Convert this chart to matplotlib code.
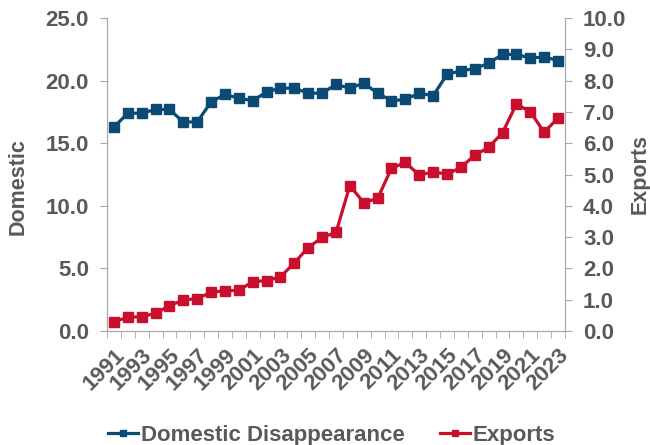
import numpy as np
import matplotlib.pyplot as plt
from matplotlib.ticker import FormatStrFormatter, MultipleLocator

plt.rcParams['font.family'] = ['Liberation Sans', 'DejaVu Sans']
plt.rcParams['font.weight'] = 'bold'

# data
years = list(range(1991, 2024))
domestic = [16.3, 17.4, 17.4, 17.7, 17.7, 16.7, 16.7, 18.3, 18.9, 18.6,
            18.4, 19.1, 19.4, 19.4, 19.0, 19.0, 19.7, 19.4, 19.8, 19.0,
            18.4, 18.5, 19.0, 18.8, 20.5, 20.8, 20.95, 21.4, 22.1, 22.1,
            21.8, 21.9, 21.6]
exports = [0.30, 0.44, 0.46, 0.57, 0.81, 0.99, 1.04, 1.24, 1.29, 1.30,
           1.58, 1.61, 1.73, 2.18, 2.67, 2.99, 3.15, 4.65, 4.10, 4.24,
           5.20, 5.39, 4.98, 5.09, 5.01, 5.23, 5.62, 5.87, 6.34, 7.25,
           7.01, 6.35, 6.81]

blue = '#0B4A75'
red = '#C8102E'
gray = '#595959'
spine_c = '#A6A6A6'

fig = plt.figure(figsize=(6.5, 4.45), dpi=100)
ax = fig.add_axes([0.1646, 0.256, 0.7046, 0.7034])
ax2 = ax.twinx()

l1, = ax.plot(years, domestic, color=blue, lw=2.3, marker='s', ms=6.5,
              label='Domestic Disappearance')
l2, = ax2.plot(years, exports, color=red, lw=2.3, marker='s', ms=6.5,
               label='Exports')

ax.set_xlim(1990.5, 2023.5)
ax.set_ylim(0, 25)
ax2.set_ylim(0, 10)
ax.yaxis.set_major_locator(MultipleLocator(5))
ax2.yaxis.set_major_locator(MultipleLocator(1))
ax.yaxis.set_major_formatter(FormatStrFormatter('%.1f'))
ax2.yaxis.set_major_formatter(FormatStrFormatter('%.1f'))

ax.set_xticks(years[::2])
ax.set_xticklabels([str(y) for y in years[::2]], rotation=45, ha='right',
                   rotation_mode='anchor')
ax.set_xticks(np.arange(1990.5, 2024, 1), minor=True)
ax.tick_params(axis='x', which='major', length=0, pad=10)
ax.tick_params(axis='x', which='minor', length=5, color=spine_c)

for a in (ax, ax2):
    for s in a.spines.values():
        s.set_color(spine_c)
    a.spines['top'].set_visible(False)
    a.tick_params(axis='y', length=5, color=spine_c, labelcolor=gray,
                  labelsize=16, pad=8)
ax.tick_params(axis='x', labelcolor=gray, labelsize=16)

ax.set_ylabel('Domestic', color=gray, fontsize=15.5, fontweight='bold',
              va='center')
ax.yaxis.set_label_coords(-0.195, 0.462)
ax2.set_ylabel('Exports', color=gray, fontsize=15.5, fontweight='bold',
               rotation=90, va='center')
ax2.yaxis.set_label_coords(1.165, 0.503)

fig.legend(handles=[l1, l2], loc='lower center', ncol=2, frameon=False,
           fontsize=16, bbox_to_anchor=(0.51, -0.047), handlelength=1.35,
           handletextpad=0.1, columnspacing=1.6, labelcolor=gray,
           markerscale=0.65)

fig.savefig('out.png', dpi=100)
